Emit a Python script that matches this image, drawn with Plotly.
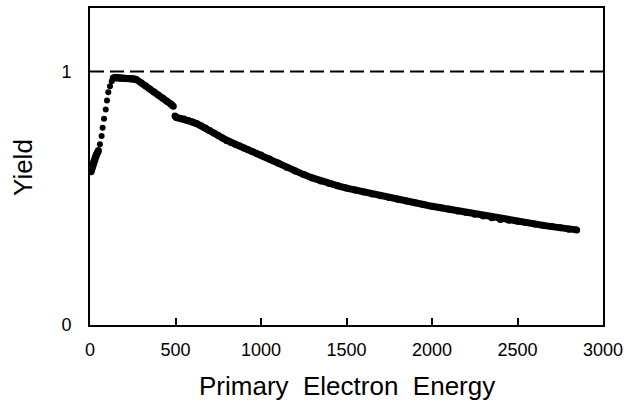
import plotly.graph_objects as go

# Dense start of curve
x_start = [6, 10, 15, 20, 25, 30, 35, 40, 45, 49]
y_start = [0.604, 0.615, 0.628, 0.640, 0.650, 0.660, 0.668, 0.675, 0.681, 0.688]

# Sparse rising dots
x_rise = [58, 68, 74, 82, 92, 99, 107, 117, 127, 136]
y_rise = [0.713, 0.745, 0.778, 0.813, 0.850, 0.885, 0.918, 0.941, 0.961, 0.974]

# Plateau and decline before the step
x_peak = [136, 145, 155, 165, 175, 185, 195, 205, 215, 225, 235, 245, 255, 265, 275,
          300, 325, 350, 375, 400, 425, 450, 475, 487]
y_peak = [0.974, 0.976, 0.976, 0.975, 0.974, 0.974, 0.973, 0.973, 0.972, 0.972, 0.971,
          0.971, 0.970, 0.969, 0.966, 0.955, 0.943, 0.931, 0.919, 0.907, 0.895, 0.882,
          0.870, 0.863]

# After the step
x_tail = [497, 506, 525, 550, 575, 600, 625, 650, 675, 700, 725, 750, 775, 800, 825,
          850, 875, 900, 925, 950, 975, 1000, 1050, 1100, 1150, 1200, 1250, 1300,
          1350, 1400, 1450, 1500, 1550, 1600, 1650, 1700, 1750, 1800, 1850, 1900,
          1950, 2000, 2050, 2100, 2150, 2200, 2250, 2300, 2350, 2400, 2450, 2500,
          2550, 2600, 2650, 2700, 2750, 2800, 2846]
y_tail = [0.824, 0.818, 0.815, 0.812, 0.806, 0.800, 0.794, 0.786, 0.777, 0.767, 0.757,
          0.747, 0.737, 0.727, 0.720, 0.713, 0.706, 0.698, 0.691, 0.684, 0.676, 0.670,
          0.655, 0.639, 0.622, 0.607, 0.593, 0.580, 0.568, 0.558, 0.549, 0.540, 0.532,
          0.524, 0.517, 0.510, 0.503, 0.496, 0.489, 0.482, 0.475, 0.468, 0.462, 0.456,
          0.450, 0.444, 0.437, 0.430, 0.423, 0.416, 0.413, 0.409, 0.404, 0.398, 0.393,
          0.388, 0.383, 0.378, 0.375]

x_ticks = [0, 500, 1000, 1500, 2000, 2500, 3000]
y_ticks = [0, 1]

FONT = "Liberation Sans, Arial, sans-serif"

fig = go.Figure()
for xs, ys in [(x_start, y_start), (x_peak, y_peak), (x_tail, y_tail)]:
    fig.add_trace(go.Scatter(x=xs, y=ys, mode="lines+markers",
                             line=dict(color="black", width=7),
                             marker=dict(color="black", size=7),
                             showlegend=False, hoverinfo="skip"))
fig.add_trace(go.Scatter(x=x_rise, y=y_rise, mode="markers",
                         marker=dict(color="black", size=6),
                         showlegend=False, hoverinfo="skip"))

fig.add_shape(type="line", xref="x", yref="y", x0=0, x1=3000, y0=1, y1=1,
              line=dict(color="black", width=2, dash="14px,6px"))

fig.update_layout(
    width=632, height=404,
    margin=dict(l=90, r=29, t=6, b=79),
    paper_bgcolor="white", plot_bgcolor="white",
    font=dict(family=FONT, size=18, color="black"),
    xaxis=dict(range=[0, 3000], tickvals=x_ticks, ticktext=[str(v) for v in x_ticks],
               ticks="inside", ticklen=7, tickwidth=1.5, tickcolor="black",
               showline=True, linecolor="black", linewidth=2, mirror=True,
               showgrid=False, zeroline=False, ticklabelstandoff=7),
    yaxis=dict(range=[0, 1.25], tickvals=y_ticks, ticktext=["0", "1"],
               ticks="", showline=True, linecolor="black", linewidth=2, mirror=True,
               showgrid=False, zeroline=False, ticklabelstandoff=13),
    annotations=[
        dict(text="Primary  Electron  Energy", xref="paper", yref="paper",
             x=0.5, y=-(386 - 325) / 319, xanchor="center", yanchor="middle",
             showarrow=False, font=dict(family=FONT, size=26, color="black")),
        dict(text="Yield", xref="paper", yref="paper",
             x=-(90 - 23) / 513, y=(325 - 167) / 319, xanchor="center", yanchor="middle",
             textangle=-90, showarrow=False, font=dict(family=FONT, size=26, color="black")),
    ],
)

fig.write_html("out.html")
